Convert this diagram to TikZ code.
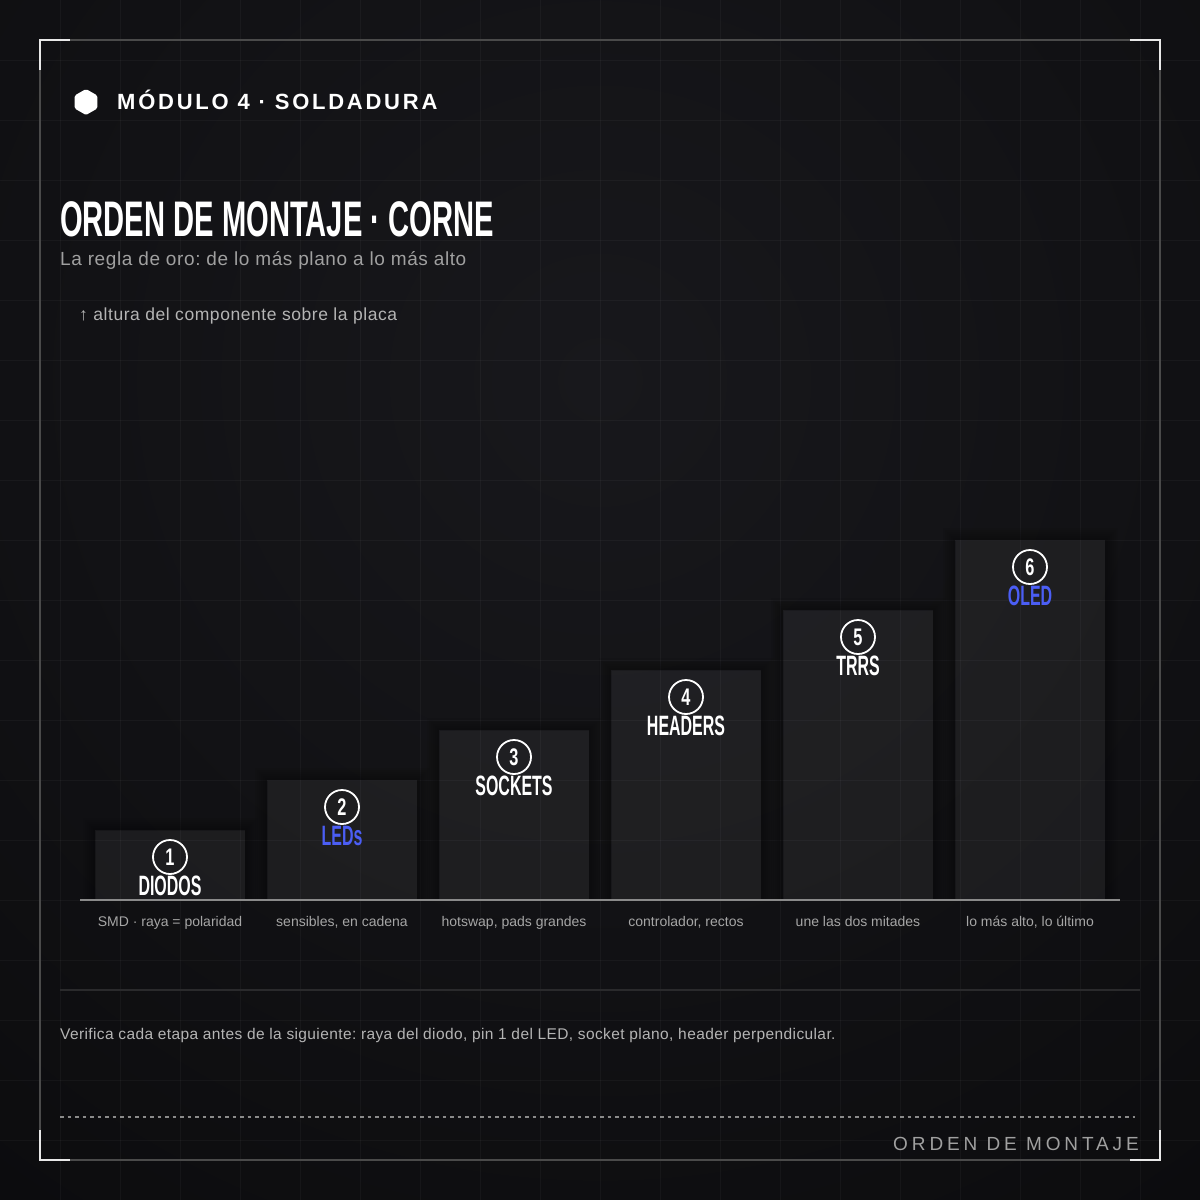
\documentclass[tikz,border=0pt]{standalone}
\usepackage{fontspec}
\setmainfont{Liberation Sans}
\newfontfamily\trackfont[LetterSpace=12.5]{Liberation Sans}
\newfontfamily\trackfontb[LetterSpace=20.5]{Liberation Sans}
\newfontfamily\bodyfont[LetterSpace=3.2]{Liberation Sans}
\newfontfamily\notefont[LetterSpace=2.5]{Liberation Sans}
\usepackage{graphicx}
\frenchspacing
\definecolor{bgin}{HTML}{18181C}
\definecolor{bgout}{HTML}{050506}
\definecolor{framec}{HTML}{4A4A4A}
\definecolor{cornerc}{HTML}{E8E8E8}
\definecolor{accent}{HTML}{4B5EF5}
\definecolor{subc}{HTML}{A0A0A0}
\definecolor{lowc}{HTML}{A6A6A6}
\definecolor{notec}{HTML}{B4B4B4}
\definecolor{sepc}{HTML}{2A2A2C}
\definecolor{basec}{HTML}{8A8A8A}
\newcommand\cnd[1]{\scalebox{0.57}[1]{\bfseries #1}}
\newcommand\cndn[1]{\scalebox{0.68}[1]{\bfseries #1}}
\newcommand\cndt[1]{\scalebox{0.583}[1]{\bfseries #1}}
\tikzset{
  gridline/.style={white, opacity=0.035, line width=1pt},
  barbox/.style={fill=white, fill opacity=0.05},
  barshadow/.style={black, opacity=0.05, even odd rule},
  numcirc/.style={circle, draw=white, line width=1.8pt, minimum size=34pt, inner sep=0pt, text=white, font=\fontsize{24}{24}\selectfont},
  barlabel/.style={anchor=base, inner sep=0pt, font=\fontsize{28}{28}\selectfont},
  sublabel/.style={anchor=base, inner sep=0pt, text=lowc, font=\fontsize{14}{14}\selectfont},
  corner/.style={cornerc, line width=2pt},
}
\begin{document}
\begin{tikzpicture}[x=1pt,y=-1pt]
\useasboundingbox (0,0) rectangle (1200,1200);
% background
\fill[bgout] (0,0) rectangle (1200,1200);
\begin{scope}
\clip (0,0) rectangle (1200,1200);
\shade[inner color=bgin, outer color=bgout] (600,380) circle (1600);
\end{scope}
% grid
\foreach \g in {60,120,...,1140} {
  \draw[gridline] (\g,0) -- (\g,1200);
  \draw[gridline] (0,\g) -- (1200,\g);
}
% frame
\draw[framec, line width=1.5pt] (40,40) rectangle (1160,1160);
\draw[corner] (40,70) -- (40,40) -- (70,40);
\draw[corner] (1130,40) -- (1160,40) -- (1160,70);
\draw[corner] (40,1130) -- (40,1160) -- (70,1160);
\draw[corner] (1130,1160) -- (1160,1160) -- (1160,1130);
% header
\fill[white, rounded corners=1.5pt] (86,89) -- (97.3,95.5) -- (97.3,108.5) -- (86,115) -- (74.7,108.5) -- (74.7,95.5) -- cycle;
\node[anchor=base west, inner sep=0pt, text=white, font=\trackfont\bfseries\fontsize{22}{22}\selectfont] (module) at (117,109) {MÓDULO 4 · SOLDADURA};
\node[anchor=base west, inner sep=0pt, text=white, font=\fontsize{50}{50}\selectfont] (title) at (60,236) {\cndt{ORDEN DE MONTAJE · CORNE}};
\node[anchor=base west, inner sep=0pt, text=subc, font=\bodyfont\fontsize{19}{19}\selectfont] (subtitle) at (60,265) {La regla de oro: de lo más plano a lo más alto};
\node[anchor=base west, inner sep=0pt, text=notec, font=\bodyfont\fontsize{17.5}{17.5}\selectfont] (axis) at (79,320) {↑ altura del componente sobre la placa};
% bars
\foreach \i/\x/\t/\lab/\col/\sub in {
  1/170/830/DIODOS/white/{SMD · raya = polaridad},
  2/342/780/LEDs/accent/{sensibles, en cadena},
  3/514/730/SOCKETS/white/{hotswap, pads grandes},
  4/686/670/HEADERS/white/{controlador, rectos},
  5/858/610/TRRS/white/{une las dos mitades},
  6/1030/540/OLED/accent/{lo más alto, lo último}} {
  \foreach \k in {2,4,...,12} {
    \fill[barshadow] ({\x-75-\k},{\t-\k}) rectangle ({\x+75+\k},899) ({\x-75},\t) rectangle ({\x+75},899);
  }
  \fill[barbox] ({\x-75},\t) rectangle ({\x+75},899);
  \node[numcirc] (c\i) at (\x,{\t+27}) {\cndn{\i}};
  \node[barlabel, text=\col] (l\i) at (\x,{\t+65}) {\cnd{\lab}};
  \node[sublabel] (s\i) at (\x,926) {\sub};
}
% baseline
\draw[basec, line width=1.8pt] (80,900) -- (1120,900);
% separator and footer
\draw[sepc, line width=1.5pt] (60,990) -- (1140,990);
\node[anchor=base west, inner sep=0pt, text=notec, font=\notefont\fontsize{15.5}{15.5}\selectfont] (note) at (60,1039) {Verifica cada etapa antes de la siguiente: raya del diodo, pin 1 del LED, socket plano, header perpendicular.};
\draw[basec, line width=1.2pt, dash pattern=on 3.5pt off 4pt] (60,1117) -- (1135,1117);
\node[anchor=base east, inner sep=0pt, text=subc, font=\trackfontb\fontsize{19}{19}\selectfont] (footer) at (1139,1150) {ORDEN DE MONTAJE};
\end{tikzpicture}
\end{document}
